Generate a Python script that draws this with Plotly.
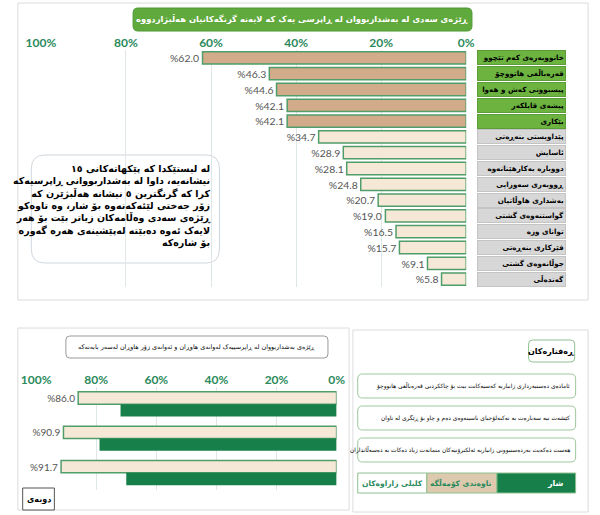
import plotly.graph_objects as go

W, H = 600, 515


def px(x):
    return x / W


def py(y):
    return 1 - y / H


# ---------------- data ----------------
top_title = "ڕێژەی سەدی لە بەشداربووان لە ڕاپرسی یەک کە لایەنە گرنگەکانیان هەڵبژاردووە"
top_categories = [
    "خانووبەرەی کەم تێچوو",
    "قەرەباڵغی هاتووچۆ",
    "پیسبوونی کەش و هەوا",
    "پیشەی قایلکەر",
    "بێکاری",
    "پێداویستی بنەڕەتی",
    "ئاسایش",
    "دووبارە بەکارهێنانەوە",
    "ڕووبەری سەوزایی",
    "بەشداری هاوڵاتیان",
    "گواستنەوەی گشتی",
    "توانای وزە",
    "فێرکاری بنەڕەتی",
    "جوڵانەوەی گشتی",
    "گەندەڵی",
]
top_values = [62.0, 46.3, 44.6, 42.1, 42.1, 34.7, 28.9, 28.1, 24.8, 20.7, 19.0, 16.5, 15.7, 9.1, 5.8]
top_n_selected = 5
tick_values = [0, 20, 40, 60, 80, 100]
tick_labels = ["0%", "20%", "40%", "60%", "80%", "100%"]

note_lines = [
    "لە لیستێکدا کە پێکهاتەکانی ١٥",
    "نیشانەیە، داوا لە بەشداربووانی ڕاپرسیەکە",
    "کرا کە گرنگترین ٥ نیشانە هەڵبژێرن کە",
    "زۆر جەختی لێئەکەنەوە بۆ شار، وە تاوەکو",
    "ڕێژەی سەدی وەڵامەکان زیاتر بێت بۆ هەر",
    "لایەک ئەوە دەبێتە لەپێشینەی هەرە گەورە",
    "بۆ شارەکە",
]

bottom_title = "ڕێژەی بەشداربووان لە ڕاپرسییەک لەوانەی هاوڕان و ئەوانەی زۆر هاوڕان لەسەر بابەتەکە"
statements = [
    "ئامادەی دەستبەرداری زانیاریە کەسیەکانت بیت بۆ چاککردنی قەرەباڵغی هاتووچۆ",
    "کێشەت نیە سەبارەت بە تەکنەلۆجیای ناسینەوەی دەم و چاو بۆ ڕێگری لە تاوان",
    "هەست دەکەیت بەردەستبوونی زانیاریە ئەلکترۆنیەکان متمانەت زیاد دەکات بە دەسەڵاتداران",
]
average_values = [86.0, 90.9, 91.7]
city_values = [71.9, 78.9, 70.0]
behaviours_title = "ڕەفتارەکان"
legend_title = "کلیلی زاراوەکان"
average_name = "ناوەندی کۆمەڵگە"
city_name = "شار"
source_label = "دوبەی"

# ---------------- styles ----------------
AR = "DejaVu Sans"
GREEN_TXT = "#2b8a5c"
TAN = "#d1ab8a"
BEIGE = "#f6e8d6"
BAR_EDGE = "#4f9d69"
DARK_GREEN = "#17804a"
LABEL_GREEN = "#6cb340"
LABEL_GRAY = "#d7d7d7"


def rtl(s):
    # right-to-left embedding so words are ordered right to left
    return "\u202b" + s + "\u202c"


fig = go.Figure()

# top chart
fig.add_trace(go.Bar(
    x=top_values, y=top_categories, orientation="h",
    xaxis="x", yaxis="y", width=0.78,
    marker=dict(color=[TAN if i < top_n_selected else BEIGE for i in range(len(top_values))],
                line=dict(color=BAR_EDGE, width=1.5)),
    text=["%" + f"{v:.1f}" for v in top_values], textposition="outside",
    textfont=dict(family="Lato", size=11, color="#555555"),
    cliponaxis=False, hoverinfo="skip", showlegend=False,
))

# bottom chart
fig.add_trace(go.Bar(
    x=average_values, y=statements, orientation="h",
    xaxis="x2", yaxis="y2", width=0.36, offset=-0.36,
    marker=dict(color=BEIGE, line=dict(color=BAR_EDGE, width=1.5)),
    text=["%" + f"{v:.1f}" for v in average_values], textposition="outside",
    textfont=dict(family="Lato", size=10, color="#555555"),
    cliponaxis=False, hoverinfo="skip", showlegend=False, name=average_name,
))
fig.add_trace(go.Bar(
    x=city_values, y=statements, orientation="h",
    xaxis="x2", yaxis="y2", width=0.36, offset=0,
    marker=dict(color=DARK_GREEN, line=dict(color=DARK_GREEN, width=0)),
    hoverinfo="skip", showlegend=False, name=city_name,
))

axis_common = dict(
    range=[100, 0], tickvals=tick_values, ticktext=tick_labels, side="top",
    showgrid=True, gridcolor="#dfe7e6", gridwidth=1, zeroline=False,
    showline=False, ticks="", fixedrange=True,
    tickfont=dict(family="Lato", size=12, color=GREEN_TXT, weight="bold"),
)

shapes = []
annotations = []


def rrect(x0, y0, x1, y1, r, line, fill, lw=1):
    p = (f"M {px(x0 + r)},{py(y0)} L {px(x1 - r)},{py(y0)} "
         f"Q {px(x1)},{py(y0)} {px(x1)},{py(y0 + r)} L {px(x1)},{py(y1 - r)} "
         f"Q {px(x1)},{py(y1)} {px(x1 - r)},{py(y1)} L {px(x0 + r)},{py(y1)} "
         f"Q {px(x0)},{py(y1)} {px(x0)},{py(y1 - r)} L {px(x0)},{py(y0 + r)} "
         f"Q {px(x0)},{py(y0)} {px(x0 + r)},{py(y0)} Z")
    shapes.append(dict(type="path", path=p, xref="paper", yref="paper",
                       line=dict(color=line, width=lw), fillcolor=fill, layer="below"))


def rect(x0, y0, x1, y1, line, fill, lw=1):
    shapes.append(dict(type="rect", xref="paper", yref="paper",
                       x0=px(x0), x1=px(x1), y0=py(y1), y1=py(y0),
                       line=dict(color=line, width=lw), fillcolor=fill, layer="below"))


def label(x, y, text, size, color="black", xanchor="center", yanchor="middle", weight="bold", **kw):
    annotations.append(dict(x=px(x), y=py(y), xref="paper", yref="paper", text=text,
                            xanchor=xanchor, yanchor=yanchor, showarrow=False,
                            font=dict(family=AR, size=size, color=color, weight=weight), **kw))


# panels
rect(3, 3, 597, 300, "#dcdcdc", "white")
rect(3, 328, 348, 510, "#dcdcdc", "white")
rect(352, 330, 597, 512, "#dcdcdc", "white")

# top title button
rrect(123, 8, 476, 31, 5, "#4d9a33", "#5fa93d")
label(299.5, 19.5, rtl(top_title), 8.4, color="white")

# category label boxes
for i, c in enumerate(top_categories):
    sel = i < top_n_selected
    annotations.append(dict(
        x=px(574), y=c, xref="paper", yref="y", xanchor="right", yanchor="middle",
        text=rtl(c), showarrow=False,
        width=85, height=11, align="right", borderpad=1,
        bgcolor=LABEL_GREEN if sel else LABEL_GRAY,
        bordercolor="#5b9c36" if sel else "#c4c4c4", borderwidth=1,
        font=dict(family=AR, size=7.2, color="black", weight="bold"),
    ))

# note box
rrect(17, 155, 213, 263, 14, "#d0d7dd", "white")
label(207, 161, "<br>".join(rtl(s) for s in note_lines), 9.5,
      xanchor="right", yanchor="top", align="right")

# bottom title box
rrect(53, 336, 326, 358, 4, "#9a9a9a", "white")
label(189.5, 347, rtl(bottom_title), 6.4, weight="normal")

# source box
rect(8, 488, 41, 510, "#555555", "white")
label(24.5, 499, rtl(source_label), 8)

# behaviours panel
rrect(535, 340, 583, 362, 4, "#8fc08f", "white")
label(559, 351, rtl(behaviours_title), 8)
box_tops = [374, 406, 438]
for s, t in zip(statements, box_tops):
    rrect(357, t, 584, t + 24, 5, "#9cc89c", "white")
    label(580, t + 12, rtl(s), 5.9, xanchor="right", weight="normal")

# legend strip
rect(357, 473, 429, 493, "#8fc08f", "white")
rect(429, 473, 502, 493, "#8fc08f", "#dcc9ae")
rect(502, 473, 584, 493, "#8fc08f", DARK_GREEN)
label(393, 483, rtl(legend_title), 7.5, color=GREEN_TXT)
label(465, 483, rtl(average_name), 7.5, color=GREEN_TXT)
label(574, 483, rtl(city_name), 8, color="white", xanchor="right")

fig.update_layout(
    width=W, height=H, margin=dict(l=0, r=0, t=0, b=0),
    paper_bgcolor="white", plot_bgcolor="rgba(0,0,0,0)",
    barmode="overlay",
    xaxis=dict(domain=[px(27), px(470)], anchor="y", **axis_common),
    yaxis=dict(domain=[py(287), py(50)], autorange="reversed", showticklabels=False,
               showgrid=False, zeroline=False, fixedrange=True, anchor="x"),
    xaxis2=dict(domain=[px(22), px(335)], anchor="y2", **axis_common),
    yaxis2=dict(domain=[py(490), py(387)], autorange="reversed", showticklabels=False,
                showgrid=False, zeroline=False, fixedrange=True, anchor="x2"),
    shapes=shapes, annotations=annotations,
)

fig.write_html("out.html", config={"displayModeBar": False},
               post_script="document.body.style.margin='0px';document.body.style.padding='0px';")
